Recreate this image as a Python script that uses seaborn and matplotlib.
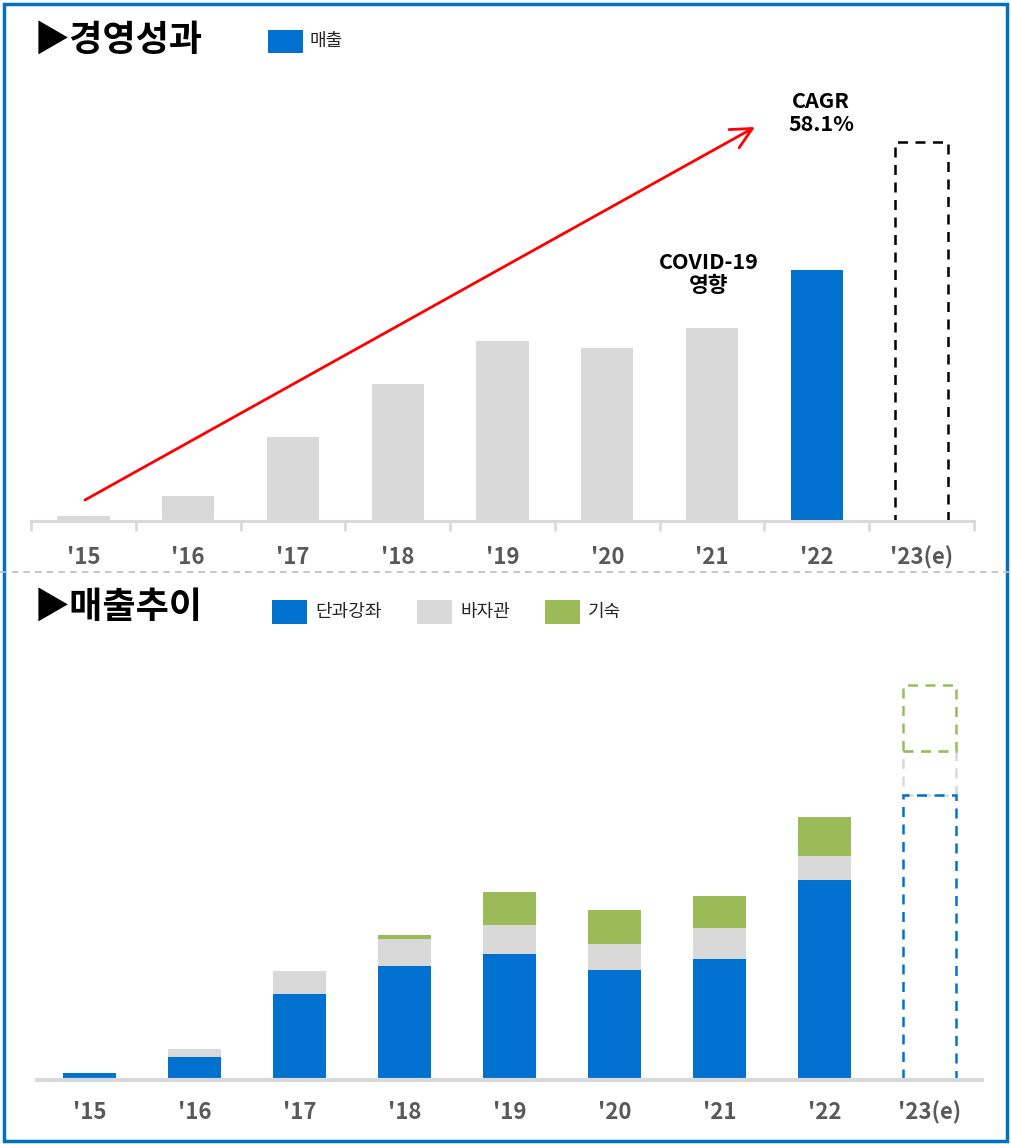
import numpy as np
import matplotlib
matplotlib.use("Agg")
import matplotlib.pyplot as plt
from matplotlib.patches import Rectangle
from matplotlib.lines import Line2D
import seaborn as sns

# ---------------- data ----------------
years = ["'15", "'16", "'17", "'18", "'19", "'20", "'21", "'22", "'23(e)"]
revenue = [5, 25, 84, 137, 180, 173, 193, 251, 379]
lecture = [7, 23, 86, 114, 126, 110, 121, 200, 285]   # 단과강좌
bazagwan = [0, 8, 23, 27, 29, 26, 31, 24, 44]         # 바자관
dorm = [0, 0, 0, 4, 33, 34, 32, 39, 66]               # 기숙
cagr_text = "CAGR\n58.1%"
covid_text = "COVID-19\n영향"

BLUE = "#0071CE"
GRAY = "#D9D9D9"
GREEN = "#9BBB59"
TICKC = "#595959"

sns.set_style("white")
plt.rcParams["font.family"] = ["Noto Sans CJK KR", "DejaVu Sans"]
plt.rcParams["text.color"] = "black"

W, H = 1011, 1144
fig = plt.figure(figsize=(W / 100, H / 100), dpi=100)

def fx(px):
    return px / W

def fy(py):
    return 1 - py / H

# ---------------- top panel ----------------
ax1 = fig.add_axes([fx(31), fy(521), fx(974) - fx(31), (521 - 60) / H])
top_colors = [GRAY] * 7 + [BLUE, "white"]
sns.barplot(x=years, y=revenue, hue=years, palette=top_colors, legend=False,
            width=0.5, saturation=1, linewidth=0, ax=ax1)
est = ax1.patches[len(years) - 1]
est.set_facecolor("white")
est.set_edgecolor("black")
est.set_linewidth(1.8)
est.set_linestyle((0, (4, 3)))

ax1.set_xlim(-0.5, len(years) - 0.5)
ax1.set_ylim(0, 461)
ax1.set_yticks([])
ax1.set_xlabel("")
ax1.set_ylabel("")
for s in ["top", "left", "right"]:
    ax1.spines[s].set_visible(False)
ax1.spines["bottom"].set_color(GRAY)
ax1.spines["bottom"].set_linewidth(2.2)
ax1.set_xticks(np.arange(-0.5, len(years), 1), minor=True)
ax1.tick_params(axis="x", which="minor", bottom=True, direction="out",
                length=7, width=2, color=GRAY)
ax1.tick_params(axis="x", which="major", length=0, pad=18)
for lab in ax1.get_xticklabels():
    lab.set_fontsize(16)
    lab.set_fontweight("bold")
    lab.set_color(TICKC)

ax1.annotate("", xy=(6.41, 394), xytext=(0.015, 21),
             arrowprops=dict(arrowstyle="->,head_length=0.6,head_width=0.3",
                             color="red", lw=2, mutation_scale=25,
                             shrinkA=0, shrinkB=0),
             annotation_clip=False)
ax1.text(7.04, 408, cagr_text, ha="center", va="center", fontsize=15.5,
         fontweight="bold", linespacing=1.1, clip_on=False, color="black")
ax1.text(5.97, 247, covid_text, ha="center", va="center", fontsize=15.5,
         fontweight="bold", linespacing=1.1, clip_on=False, color="black")

# ---------------- bottom panel ----------------
ax2 = fig.add_axes([fx(37), fy(1080), fx(982) - fx(37), (1080 - 640) / H])
lec = np.array(lecture, dtype=float)
baz = np.array(bazagwan, dtype=float)
drm = np.array(dorm, dtype=float)
n = len(years)
sns.barplot(x=years, y=lec + baz + drm, color=GREEN, width=0.5, saturation=1,
            linewidth=0, ax=ax2)
sns.barplot(x=years, y=lec + baz, color=GRAY, width=0.5, saturation=1,
            linewidth=0, ax=ax2)
sns.barplot(x=years, y=lec, color=BLUE, width=0.5, saturation=1,
            linewidth=0, ax=ax2)

g = ax2.patches[n - 1]
gr = ax2.patches[2 * n - 1]
b = ax2.patches[3 * n - 1]
g.set_y(lec[-1] + baz[-1]); g.set_height(drm[-1])
gr.set_y(lec[-1]); gr.set_height(baz[-1])
for p, c, z in [(g, GREEN, 3.2), (gr, GRAY, 3.0), (b, BLUE, 3.1)]:
    p.set_facecolor("none")
    p.set_edgecolor(c)
    p.set_linewidth(1.8)
    p.set_linestyle((0, (4, 3)))
    p.set_zorder(z)

ax2.set_xlim(-0.5, n - 0.5)
ax2.set_ylim(0, 440)
ax2.set_yticks([])
ax2.set_xlabel("")
ax2.set_ylabel("")
for s in ["top", "left", "right"]:
    ax2.spines[s].set_visible(False)
ax2.spines["bottom"].set_color(GRAY)
ax2.spines["bottom"].set_linewidth(3)
ax2.spines["bottom"].set_zorder(5)
ax2.tick_params(axis="x", which="major", length=0, pad=15)
for lab in ax2.get_xticklabels():
    lab.set_fontsize(16)
    lab.set_fontweight("bold")
    lab.set_color(TICKC)

# ---------------- titles / legends ----------------
fig.text(fx(34), fy(40), "▶경영성과", fontsize=26, fontweight="bold",
         va="center", ha="left", color="black")
fig.patches.append(Rectangle((fx(268), fy(53)), 35 / W, 23 / H,
                             facecolor=BLUE, edgecolor="none",
                             transform=fig.transFigure, figure=fig))
fig.text(fx(310), fy(41), "매출", fontsize=13, va="center", ha="left",
         color="#262626")

fig.text(fx(34), fy(607), "▶매출추이", fontsize=26, fontweight="bold",
         va="center", ha="left", color="black")
for x0, c, t in [(272, BLUE, "단과강좌"), (417, GRAY, "바자관"), (545, GREEN, "기숙")]:
    fig.patches.append(Rectangle((fx(x0), fy(624)), 35 / W, 24 / H,
                                 facecolor=c, edgecolor="none",
                                 transform=fig.transFigure, figure=fig))
    fig.text(fx(x0 + 43), fy(612), t, fontsize=13, va="center", ha="left",
             color="#262626")

# separator and border
fig.lines.append(Line2D([0, 1], [fy(572), fy(572)], transform=fig.transFigure,
                        color="#BFBFBF", lw=1.2, ls=(0, (4, 3)), figure=fig))
fig.patches.append(Rectangle((fx(4), fy(1141)), (1007 - 4) / W, (1141 - 4) / H,
                             fill=False, edgecolor="#0070C0", lw=2.5,
                             transform=fig.transFigure, figure=fig))

fig.savefig("out.png", dpi=100)
